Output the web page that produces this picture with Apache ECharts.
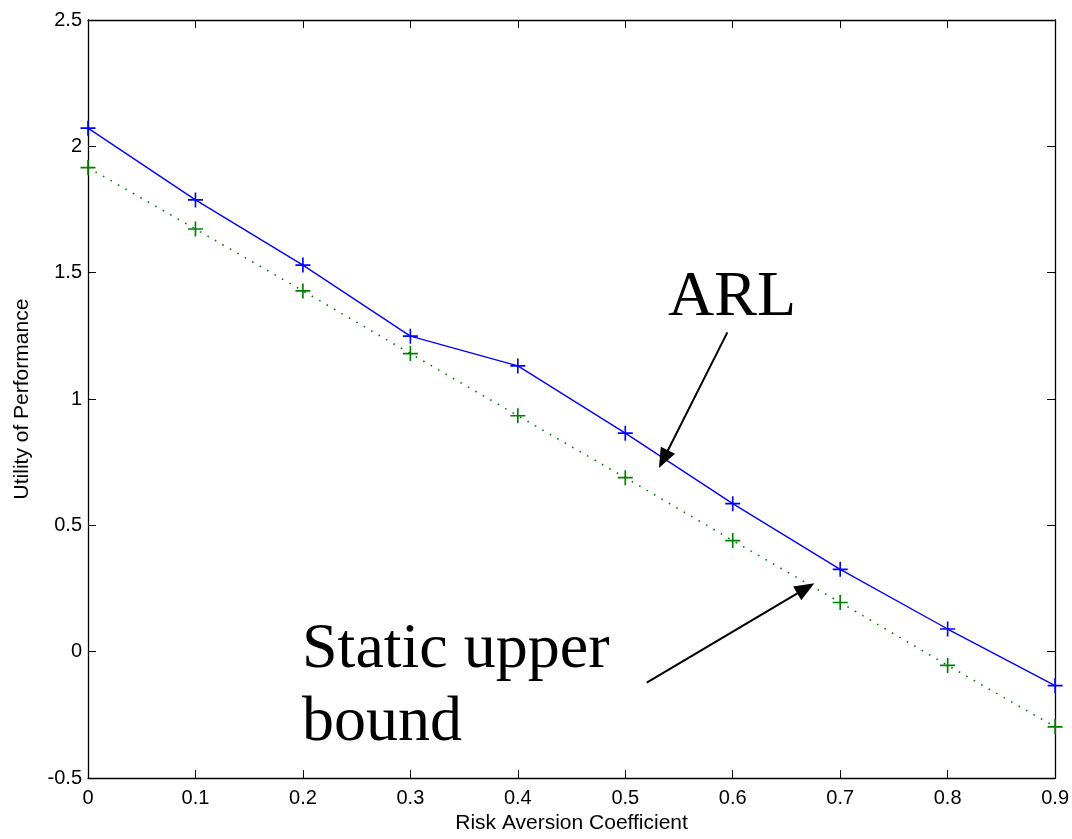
<!DOCTYPE html>
<html>
<head>
<meta charset="utf-8">
<script src="https://cdn.jsdelivr.net/npm/echarts@6/dist/echarts.min.js"></script>
<style>
  html, body { margin: 0; padding: 0; background: #fff; overflow: hidden; }
  #chart { width: 1072px; height: 839px; }
</style>
</head>
<body>
<div id="chart"></div>
<script>
// Risk aversion coefficients (x axis)
const riskAversion = [0, 0.1, 0.2, 0.3, 0.4, 0.5, 0.6, 0.7, 0.8, 0.9];
// Utility of performance for the ARL policy
const arlUtility = [2.072, 1.788, 1.530, 1.249, 1.131, 0.865, 0.586, 0.326, 0.090, -0.134];
// Utility of performance for the static upper bound
const staticUpperBound = [1.916, 1.673, 1.428, 1.180, 0.934, 0.689, 0.440, 0.195, -0.054, -0.297];

// Annotation arrows, given in data coordinates: [tail, head]
const arlArrow = [[0.595, 1.264], [0.5355, 0.762]];
const staticArrow = [[0.520, -0.122], [0.668, 0.251]];

const plusSymbol = 'path://M0,4.45H10V5.55H0Z M4.45,0H5.55V10H4.45Z';

const chart = echarts.init(document.getElementById('chart'), null, { renderer: 'canvas', width: 1072, height: 839 });

const sans = 'Liberation Sans, Arial, Helvetica, sans-serif';
const tickFont = { fontFamily: sans, fontSize: 20, color: '#000' };
const axisLine = { show: true, onZero: false, lineStyle: { color: '#000', width: 1.3 } };
const axisTickIn = { show: true, inside: true, length: 8, lineStyle: { color: '#000', width: 1 } };

function pairs(xs, ys) { return xs.map((x, i) => [x, ys[i]]); }

function arrowLine(seg) {
  return {
    silent: true,
    symbol: ['none', 'triangle'],
    symbolSize: [16, 20],
    label: { show: false },
    lineStyle: { color: '#000', width: 2, type: 'solid' },
    data: [[{ coord: seg[0] }, { coord: seg[1] }]]
  };
}

chart.setOption({
  backgroundColor: '#fff',
  animation: false,
  grid: { left: 88, right: 16, top: 20, bottom: 55, containLabel: false },
  xAxis: [
    {
      type: 'value', min: 0, max: 0.9, interval: 0.1,
      name: 'Risk Aversion Coefficient', nameLocation: 'middle', nameGap: 34,
      nameTextStyle: { fontFamily: sans, fontSize: 21, color: '#000' },
      axisLine: axisLine, axisTick: axisTickIn,
      axisLabel: Object.assign({ margin: 10 }, tickFont),
      splitLine: { show: false }
    },
    {
      type: 'value', position: 'top', min: 0, max: 0.9, interval: 0.1,
      axisLine: axisLine, axisTick: axisTickIn,
      axisLabel: { show: false }, splitLine: { show: false }
    }
  ],
  yAxis: [
    {
      type: 'value', min: -0.5, max: 2.5, interval: 0.5,
      name: 'Utility of Performance', nameLocation: 'middle', nameGap: 55, nameRotate: 90,
      nameTextStyle: { fontFamily: sans, fontSize: 21, color: '#000' },
      axisLine: axisLine, axisTick: axisTickIn,
      axisLabel: Object.assign({ margin: 6 }, tickFont),
      splitLine: { show: false }
    },
    {
      type: 'value', position: 'right', min: -0.5, max: 2.5, interval: 0.5,
      axisLine: axisLine, axisTick: axisTickIn,
      axisLabel: { show: false }, splitLine: { show: false }
    }
  ],
  series: [
    {
      name: 'ARL', type: 'line',
      data: pairs(riskAversion, arlUtility),
      symbol: plusSymbol, symbolSize: 15, showAllSymbol: true,
      lineStyle: { color: '#0000ff', width: 1.4 },
      itemStyle: { color: '#0000ff' },
      z: 3,
      markLine: arrowLine(arlArrow)
    },
    {
      name: 'Static upper bound', type: 'line',
      data: pairs(riskAversion, staticUpperBound),
      symbol: plusSymbol, symbolSize: 15, showAllSymbol: true,
      lineStyle: { color: '#008000', width: 1.6, type: [1.6, 7] },
      itemStyle: { color: '#008000' },
      z: 2,
      markLine: arrowLine(staticArrow)
    }
  ],
  graphic: [
    {
      type: 'text', left: 668, top: 266,
      style: { text: 'ARL', font: '64px "Liberation Serif", "Times New Roman", serif', fill: '#000' }
    },
    {
      type: 'text', left: 302, top: 614,
      style: { text: 'Static upper\nbound', font: '64px "Liberation Serif", "Times New Roman", serif', fill: '#000', lineHeight: 73 }
    }
  ]
});
</script>
</body>
</html>
